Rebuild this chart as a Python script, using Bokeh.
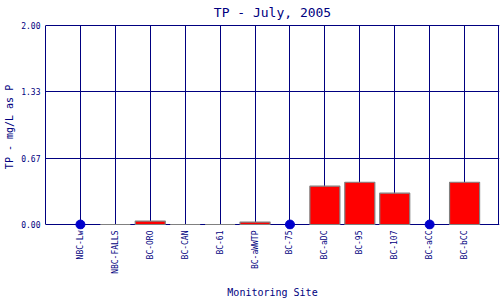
import math
from bokeh.plotting import figure
from bokeh.models import (FactorRange, FixedTicker, NumeralTickFormatter, Range1d,
                          ColumnDataSource, Grid)
from bokeh.embed import file_html
from bokeh.resources import INLINE

# ---- data ----
sites = ["NBC-Lw", "NBC-FALLS", "BC-ORO", "BC-CAN", "BC-61", "BC-aWWTP",
         "BC-75", "BC-aDC", "BC-95", "BC-107", "BC-aCC", "BC-bCC"]
# measured TP (mg/L as P); None = no bar (non-detect shown as a dot)
tp_values = [None, 0.0, 0.035, 0.0, 0.0, 0.025, None, 0.385, 0.425, 0.315, None, 0.425]
nondetect_sites = ["NBC-Lw", "BC-75", "BC-aCC"]
nondetect_values = [0.0, 0.0, 0.0]
y_ticks = [0.0, 2.0 / 3.0, 4.0 / 3.0, 2.0]
y_min, y_max = 0.0, 2.0

NAVY = "#000080"
FONT = "DejaVu Sans Mono"

bar_sites = [s for s, v in zip(sites, tp_values) if v is not None]
bar_vals = [v for v in tp_values if v is not None]
bars = ColumnDataSource(dict(site=bar_sites, tp=bar_vals))
dots = ColumnDataSource(dict(site=nondetect_sites, tp=nondetect_values))

# a little room below zero so the non-detect dots are not clipped by the frame
p = figure(width=500, height=300, output_backend="svg", toolbar_location=None,
           x_range=FactorRange(factors=sites, range_padding=0.5, range_padding_units="absolute"),
           y_range=Range1d(y_min - 0.05, y_max + 0.01),
           min_border_left=45, min_border_right=1, min_border_top=24, min_border_bottom=70)

p.title.text = "TP - July, 2005"
p.title.text_font = FONT
p.title.text_font_size = "13px"
p.title.text_font_style = "normal"
p.title.text_color = NAVY
p.title.align = "center"
p.title.vertical_align = "top"
p.title.standoff = 6

p.outline_line_color = None

# grids (vertical lines limited to the 0..2 band)
p.xgrid.grid_line_color = NAVY
p.ygrid.grid_line_color = NAVY
p.xgrid.grid_line_width = 1
p.ygrid.grid_line_width = 1
p.xgrid.cross_bounds = (y_min, y_max)

# right frame edge of the 0..2 band
p.add_layout(Grid(dimension=0, ticker=FixedTicker(ticks=[len(sites) + 0.47]),
                  cross_bounds=(y_min, y_max), grid_line_color=NAVY, grid_line_width=1))

p.vbar(x="site", top="tp", bottom=0, width=0.86, source=bars,
       fill_color="#FF0000", line_color="#808080", line_width=1.2)
p.scatter(x="site", y="tp", source=dots, size=9, fill_color="#0000CC", line_color="#0000CC")

# y axis
p.yaxis.ticker = FixedTicker(ticks=y_ticks)
p.yaxis.formatter = NumeralTickFormatter(format="0.00")
p.yaxis.bounds = (y_min, y_max)
p.yaxis.axis_label = "TP - mg/L as P"
p.yaxis.axis_line_color = NAVY
p.yaxis.major_tick_line_color = None
p.yaxis.minor_tick_line_color = None
p.yaxis.major_tick_out = 0
p.yaxis.major_tick_in = 0
p.yaxis.minor_tick_out = 0
p.yaxis.major_label_text_font = FONT
p.yaxis.major_label_text_font_size = "8px"
p.yaxis.major_label_text_color = NAVY
p.yaxis.major_label_standoff = 5
p.yaxis.axis_label_text_font = FONT
p.yaxis.axis_label_text_font_size = "10px"
p.yaxis.axis_label_text_font_style = "normal"
p.yaxis.axis_label_text_color = NAVY
p.yaxis.axis_label_standoff = 3

# x axis
p.xaxis.axis_label = "Monitoring Site"
p.xaxis.axis_line_color = None
p.xaxis.major_tick_line_color = None
p.xaxis.minor_tick_line_color = None
p.xaxis.major_tick_out = 0
p.xaxis.major_tick_in = 0
p.xaxis.minor_tick_out = 0
p.xaxis.major_label_orientation = math.pi / 2
p.xaxis.major_label_text_font = FONT
p.xaxis.major_label_text_font_size = "8px"
p.xaxis.major_label_text_color = NAVY
p.xaxis.major_label_standoff = 1
p.xaxis.axis_label_text_font = FONT
p.xaxis.axis_label_text_font_size = "10px"
p.xaxis.axis_label_text_font_style = "normal"
p.xaxis.axis_label_text_color = NAVY
p.xaxis.axis_label_standoff = 10

open("out.html", "w").write(file_html(p, INLINE))
